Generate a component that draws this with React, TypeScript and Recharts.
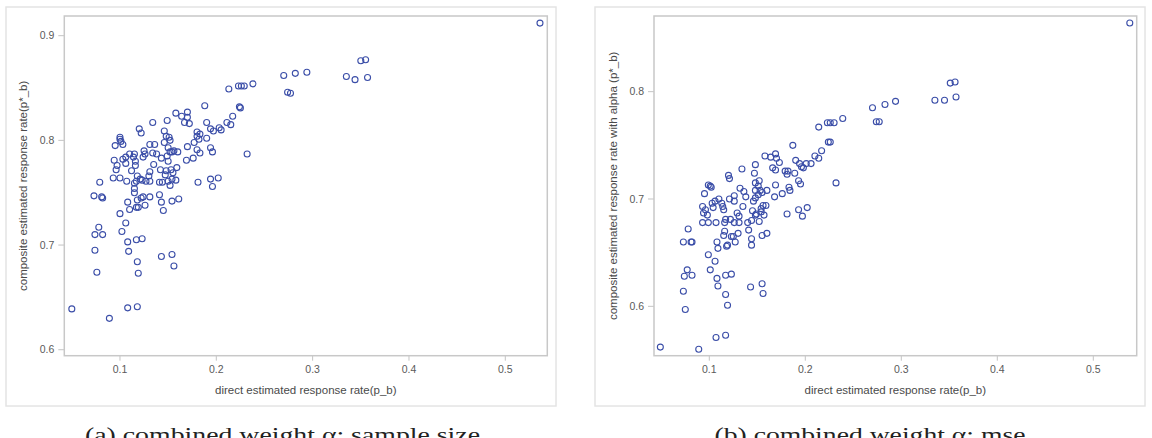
import React from "react";
import { ScatterChart, Scatter, XAxis, YAxis } from "recharts";

// Panel (a): direct estimate vs composite estimate (weight by sample size)
const directRateA: number[] = [
  0.05, 0.089, 0.108, 0.118, 0.076, 0.119, 0.118, 0.143, 0.154, 0.156,
  0.074, 0.109, 0.074, 0.082, 0.078, 0.108, 0.117, 0.123, 0.102, 0.106,
  0.1, 0.073, 0.081, 0.082, 0.079, 0.108, 0.11, 0.117, 0.119, 0.118,
  0.122, 0.124, 0.126, 0.131, 0.141, 0.143, 0.145, 0.154, 0.161, 0.115,
  0.115, 0.115, 0.107, 0.117, 0.121, 0.127, 0.131, 0.123, 0.118, 0.093,
  0.1, 0.141, 0.144, 0.152, 0.15, 0.158, 0.154, 0.147, 0.13, 0.131,
  0.148, 0.142, 0.155, 0.153, 0.159, 0.181, 0.194, 0.202, 0.196, 0.232,
  0.112, 0.096, 0.097, 0.094, 0.103, 0.106, 0.11, 0.114, 0.116, 0.116,
  0.106, 0.115, 0.124, 0.126, 0.125, 0.131, 0.136, 0.138, 0.134, 0.135,
  0.143, 0.149, 0.152, 0.15, 0.154, 0.156, 0.16, 0.15, 0.146, 0.151,
  0.148, 0.152, 0.146, 0.149, 0.134, 0.12, 0.122, 0.095, 0.1, 0.1,
  0.101, 0.103, 0.158, 0.17, 0.17, 0.164, 0.167, 0.172, 0.188, 0.17,
  0.169, 0.176, 0.18, 0.183, 0.177, 0.18, 0.18, 0.183, 0.182, 0.19,
  0.19, 0.194, 0.197, 0.194, 0.196, 0.203, 0.205, 0.211, 0.215, 0.217,
  0.224, 0.225, 0.213, 0.223, 0.226, 0.229, 0.238, 0.27, 0.274, 0.277,
  0.282, 0.294, 0.335, 0.344, 0.357, 0.35, 0.355, 0.536,
];
const compositeRateA: number[] = [
  0.639, 0.63, 0.64, 0.641, 0.674, 0.673, 0.684, 0.689, 0.691, 0.68,
  0.695, 0.694, 0.71, 0.71, 0.717, 0.703, 0.705, 0.706, 0.713, 0.721,
  0.73, 0.747, 0.746, 0.745, 0.76, 0.741, 0.734, 0.736, 0.736, 0.743,
  0.745, 0.746, 0.738, 0.746, 0.748, 0.741, 0.733, 0.742, 0.744, 0.75,
  0.754, 0.759, 0.761, 0.761, 0.763, 0.761, 0.761, 0.762, 0.766, 0.764,
  0.764, 0.76, 0.76, 0.757, 0.761, 0.762, 0.763, 0.767, 0.766, 0.77,
  0.771, 0.772, 0.769, 0.772, 0.774, 0.76, 0.763, 0.764, 0.756, 0.787,
  0.771, 0.772, 0.776, 0.781, 0.782, 0.784, 0.787, 0.784, 0.78, 0.776,
  0.778, 0.787, 0.784, 0.787, 0.79, 0.796, 0.796, 0.787, 0.788, 0.777,
  0.783, 0.785, 0.789, 0.78, 0.789, 0.79, 0.789, 0.793, 0.798, 0.803,
  0.804, 0.8, 0.809, 0.819, 0.817, 0.811, 0.807, 0.795, 0.803, 0.801,
  0.799, 0.796, 0.826, 0.822, 0.827, 0.823, 0.817, 0.816, 0.833, 0.794,
  0.781, 0.783, 0.791, 0.788, 0.798, 0.804, 0.808, 0.806, 0.801, 0.802,
  0.817, 0.811, 0.809, 0.793, 0.789, 0.812, 0.81, 0.817, 0.815, 0.823,
  0.832, 0.831, 0.849, 0.852, 0.852, 0.852, 0.854, 0.862, 0.846, 0.845,
  0.864, 0.865, 0.861, 0.858, 0.86, 0.876, 0.877, 0.912,
];

// Panel (b): direct estimate vs composite estimate (weight by mse)
const directRateB: number[] = [
  0.049, 0.089, 0.107, 0.117, 0.075, 0.119, 0.117, 0.073, 0.143, 0.155,
  0.156, 0.074, 0.077, 0.082, 0.101, 0.108, 0.109, 0.117, 0.123, 0.106,
  0.099, 0.073, 0.081, 0.082, 0.078, 0.108, 0.109, 0.118, 0.119, 0.127,
  0.123, 0.125, 0.115, 0.13, 0.144, 0.144, 0.155, 0.16, 0.116, 0.141,
  0.093, 0.099, 0.107, 0.116, 0.117, 0.122, 0.126, 0.131, 0.14, 0.144,
  0.152, 0.148, 0.145, 0.154, 0.157, 0.181, 0.193, 0.197, 0.202, 0.232,
  0.094, 0.096, 0.093, 0.098, 0.103, 0.106, 0.11, 0.113, 0.114, 0.115,
  0.104, 0.121, 0.126, 0.126, 0.129, 0.131, 0.135, 0.132, 0.136, 0.138,
  0.149, 0.154, 0.156, 0.159, 0.146, 0.148, 0.151, 0.148, 0.153, 0.155,
  0.16, 0.151, 0.148, 0.152, 0.147, 0.148, 0.134, 0.12, 0.121, 0.099,
  0.101, 0.102, 0.095, 0.169, 0.176, 0.168, 0.169, 0.166, 0.158, 0.164,
  0.169, 0.17, 0.173, 0.187, 0.179, 0.181, 0.182, 0.183, 0.184, 0.19,
  0.194, 0.196, 0.198, 0.201, 0.193, 0.195, 0.21, 0.214, 0.217, 0.206,
  0.189, 0.224, 0.226, 0.214, 0.223, 0.226, 0.23, 0.239, 0.27, 0.283,
  0.294, 0.274, 0.277, 0.335, 0.345, 0.357, 0.351, 0.356, 0.538,
];
const compositeAlphaB: number[] = [
  0.562, 0.56, 0.571, 0.573, 0.597, 0.601, 0.611, 0.614, 0.618, 0.621,
  0.612, 0.628, 0.634, 0.629, 0.634, 0.626, 0.619, 0.629, 0.63, 0.642,
  0.648, 0.66, 0.66, 0.66, 0.672, 0.66, 0.654, 0.656, 0.657, 0.66,
  0.665, 0.665, 0.666, 0.668, 0.663, 0.657, 0.666, 0.668, 0.67, 0.671,
  0.678, 0.678, 0.678, 0.678, 0.681, 0.681, 0.678, 0.678, 0.678, 0.68,
  0.679, 0.685, 0.689, 0.688, 0.685, 0.686, 0.69, 0.684, 0.692, 0.715,
  0.687, 0.69, 0.693, 0.685, 0.696, 0.698, 0.7, 0.696, 0.693, 0.69,
  0.692, 0.7, 0.703, 0.698, 0.687, 0.684, 0.693, 0.71, 0.707, 0.702,
  0.686, 0.691, 0.694, 0.694, 0.698, 0.701, 0.704, 0.708, 0.708, 0.706,
  0.708, 0.712, 0.715, 0.717, 0.724, 0.732, 0.728, 0.722, 0.719, 0.713,
  0.712, 0.711, 0.705, 0.713, 0.705, 0.702, 0.727, 0.729, 0.74, 0.739,
  0.742, 0.738, 0.734, 0.75, 0.726, 0.723, 0.726, 0.711, 0.708, 0.736,
  0.733, 0.73, 0.729, 0.733, 0.717, 0.714, 0.74, 0.738, 0.745, 0.733,
  0.724, 0.753, 0.753, 0.767, 0.771, 0.771, 0.771, 0.775, 0.785, 0.788,
  0.791, 0.772, 0.772, 0.792, 0.792, 0.795, 0.808, 0.809, 0.864,
];

const xTicks = [0.1, 0.2, 0.3, 0.4, 0.5];
const yTicksA = [0.6, 0.7, 0.8, 0.9];
const yTicksB = [0.6, 0.7, 0.8];

const xTitle = "direct estimated response rate(p_b)";
const yTitleA = "composite estimated response rate(p*_b)";
const yTitleB = "composite estimated response rate with alpha (p*_b)";
const captionA = "(a) combined weight α: sample size";
const captionB = "(b) combined weight α: mse";

const pointsA = directRateA.map((x, i) => ({ x, y: compositeRateA[i] }));
const pointsB = directRateB.map((x, i) => ({ x, y: compositeAlphaB[i] }));

const MARKER = "#3b4ea8";
const SANS = "'Liberation Sans', Arial, sans-serif";
const SERIF = "'Liberation Serif', 'Times New Roman', serif";
const TICK = { fill: "#5a5a5a", fontSize: 10.5, fontFamily: SANS };

const ring = (props: any) => (
  <circle cx={props.cx} cy={props.cy} r={3} fill="none" stroke={MARKER} strokeWidth={1.1} />
);

type Panel = {
  left: number;
  plot: { l: number; t: number; r: number; b: number };
  frame: { x: number; y: number; w: number; h: number };
  xDomain: [number, number];
  yDomain: [number, number];
  yTicks: number[];
  data: { x: number; y: number }[];
  yTitle: string;
  yTitleX: number;
  caption: string;
  captionX: number;
  captionW: number;
};

const panels: Panel[] = [
  {
    left: 0,
    plot: { l: 64.3, t: 16, r: 547.3, b: 355.7 },
    frame: { x: 6, y: 7, w: 550, h: 399 },
    xDomain: [0.0422, 0.5436],
    yDomain: [0.5943, 0.9188],
    yTicks: yTicksA,
    data: pointsA,
    yTitle: yTitleA,
    yTitleX: 23,
    caption: captionA,
    captionX: 282.5,
    captionW: 395,
  },
  {
    left: 576,
    plot: { l: 654, t: 16, r: 1136.7, b: 355.7 },
    frame: { x: 595, y: 7, w: 550, h: 399 },
    xDomain: [0.0424, 0.5452],
    yDomain: [0.554, 0.8705],
    yTicks: yTicksB,
    data: pointsB,
    yTitle: yTitleB,
    yTitleX: 613,
    caption: captionB,
    captionX: 870,
    captionW: 311,
  },
];

const W = 576;
const H = 438;
const Y_AXIS_W = 50;
const X_AXIS_H = 30;

function PanelChart({ p }: { p: Panel }) {
  const margin = {
    top: p.plot.t,
    left: p.plot.l - p.left - Y_AXIS_W,
    right: p.left + W - p.plot.r,
    bottom: H - p.plot.b - X_AXIS_H,
  };
  return (
    <div style={{ position: "absolute", left: p.left, top: 0 }}>
      <ScatterChart width={W} height={H} margin={margin}>
        <XAxis
          type="number"
          dataKey="x"
          domain={p.xDomain}
          allowDataOverflow
          ticks={xTicks}
          tickFormatter={(v: number) => v.toFixed(1)}
          height={X_AXIS_H}
          axisLine={false}
          tickLine={{ stroke: "#c4c4c4" }}
          tickSize={5}
          tickMargin={5}
          tick={TICK}
        />
        <YAxis
          type="number"
          dataKey="y"
          domain={p.yDomain}
          allowDataOverflow
          ticks={p.yTicks}
          tickFormatter={(v: number) => v.toFixed(1)}
          width={Y_AXIS_W}
          axisLine={false}
          tickLine={{ stroke: "#c4c4c4" }}
          tickSize={6}
          tickMargin={4}
          tick={TICK}
        />
        <Scatter data={p.data} shape={ring} isAnimationActive={false} />
      </ScatterChart>
    </div>
  );
}

export default function App() {
  return (
    <div style={{ position: "absolute", left: 0, top: 0, width: 1152, height: 438, background: "#fff", overflow: "hidden" }}>
      {panels.map((p, i) => (
        <PanelChart key={i} p={p} />
      ))}
      <svg width={1152} height={438} style={{ position: "absolute", left: 0, top: 0, pointerEvents: "none" }}>
        {panels.map((p, i) => {
          const cx = (p.plot.l + p.plot.r) / 2;
          const cy = (p.plot.t + p.plot.b) / 2;
          return (
            <g key={i}>
              <rect x={p.frame.x} y={p.frame.y} width={p.frame.w} height={p.frame.h} fill="none" stroke="#e4e4e4" strokeWidth={1.5} />
              <rect
                x={p.plot.l}
                y={p.plot.t}
                width={p.plot.r - p.plot.l}
                height={p.plot.b - p.plot.t}
                fill="none"
                stroke="#c8c8c8"
                strokeWidth={1.5}
              />
              <text x={cx} y={393.5} textAnchor="middle" fill="#4a4a4a" fontSize={11.5} fontFamily={SANS}>
                {xTitle}
              </text>
              <text
                x={p.yTitleX}
                y={cy}
                transform={`rotate(-90 ${p.yTitleX} ${cy})`}
                textAnchor="middle"
                dominantBaseline="central"
                fill="#4a4a4a"
                fontSize={11.5}
                fontFamily={SANS}
              >
                {p.yTitle}
              </text>
              <text
                x={p.captionX - p.captionW / 2}
                y={442}
                textLength={p.captionW}
                lengthAdjust="spacingAndGlyphs"
                fill="#222"
                fontSize={22}
                fontFamily={SERIF}
              >
                {p.caption}
              </text>
            </g>
          );
        })}
      </svg>
    </div>
  );
}
